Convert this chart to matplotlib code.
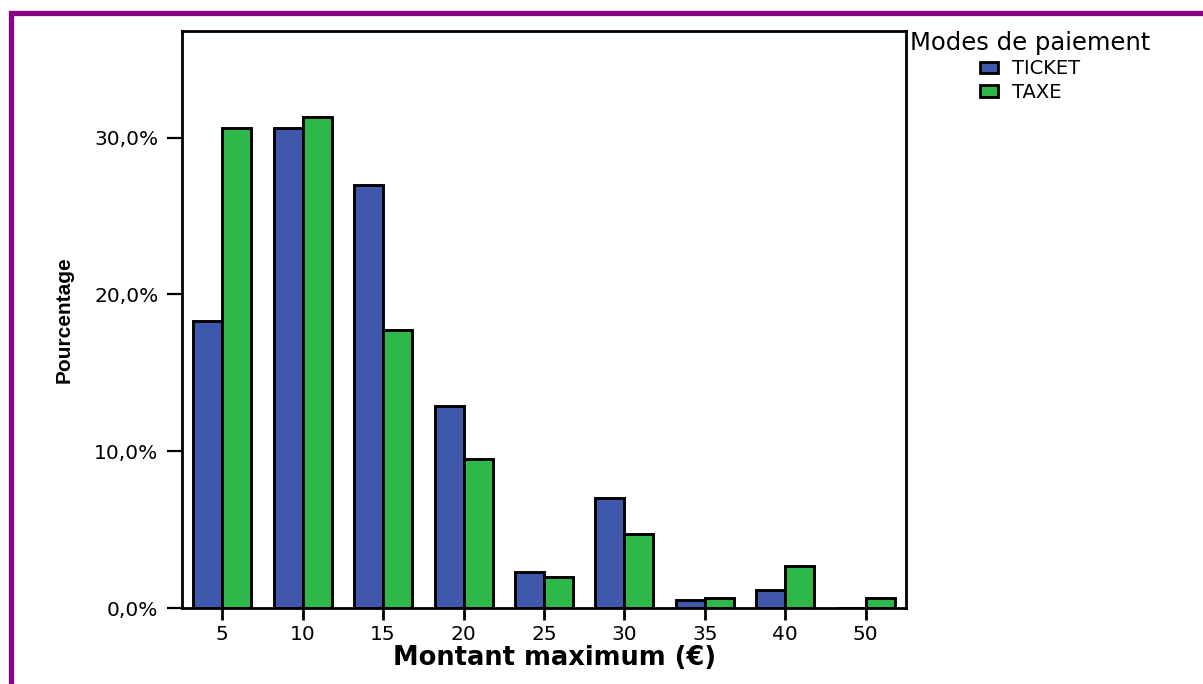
import matplotlib.pyplot as plt
import matplotlib.patches as mpatches
import numpy as np

# ----------------
# Data
# ----------------
montants = ["5", "10", "15", "20", "25", "30", "35", "40", "50"]
ticket = [18.3, 30.6, 27.0, 12.9, 2.3, 7.0, 0.5, 1.15, 0.0]
taxe = [30.6, 31.3, 17.7, 9.5, 2.0, 4.75, 0.65, 2.7, 0.65]
series_names = ["TICKET", "TAXE"]
yticks = [0, 10, 20, 30]

# ----------------
# Style
# ----------------
BLUE = "#3f58ab"
GREEN = "#2eb84a"
PURPLE = "#850585"
BAR_W = 0.36

plt.rcParams["font.family"] = ["DejaVu Sans"]

fig = plt.figure(figsize=(12.03, 6.84), dpi=100)
ax = fig.add_axes([182 / 1203, 1 - 608 / 684, 724 / 1203, 577 / 684])

x = np.arange(len(montants))
ax.bar(x - BAR_W, ticket, width=BAR_W, align="edge", color=BLUE,
       edgecolor="black", linewidth=2.1, label=series_names[0], zorder=3)
ax.bar(x, taxe, width=BAR_W, align="edge", color=GREEN,
       edgecolor="black", linewidth=2.1, label=series_names[1], zorder=3)

ax.set_xlim(-0.5, len(montants) - 0.5)
ax.set_ylim(0, 36.8)
ax.set_xticks(x)
ax.set_xticklabels(montants)
ax.set_yticks(yticks)
ax.set_yticklabels([f"{v:.1f}%".replace(".", ",") for v in yticks])

for s in ax.spines.values():
    s.set_linewidth(2.0)
    s.set_zorder(4)
ax.tick_params(axis="y", length=11, width=1.6, pad=6, labelsize=14.5)
ax.tick_params(axis="x", length=8.5, width=2.0, pad=4, labelsize=14.5)

ax.set_xlabel("Montant maximum (€)", fontsize=18.5, fontweight="bold")
ax.xaxis.set_label_coords(0.515, -0.064)
ax.set_ylabel("Pourcentage", fontsize=15, fontweight="bold",
              family=["Liberation Sans Narrow", "Liberation Sans"])
ax.yaxis.set_label_coords(-0.149, 0.5)

# ----------------
# Legend
# ----------------
leg = fig.legend(title="Modes de paiement", loc="upper left",
                 bbox_to_anchor=(910 / 1203, 1 - 31 / 684), frameon=False,
                 fontsize=14, title_fontsize=17.5, borderpad=0, borderaxespad=0,
                 handlelength=0.95, handleheight=0.55, handletextpad=0.7,
                 labelspacing=0.22)
for h in leg.legend_handles:
    h.set_linewidth(2.0)

# purple frame around the chart
frame = mpatches.Rectangle((10.5 / 1203, -0.5), 2, 0.5 + (1 - 12.5 / 684),
                           transform=fig.transFigure, fill=False,
                           edgecolor=PURPLE, linewidth=3.8, clip_on=False)
fig.patches.append(frame)

fig.savefig("out.png", dpi=100)
